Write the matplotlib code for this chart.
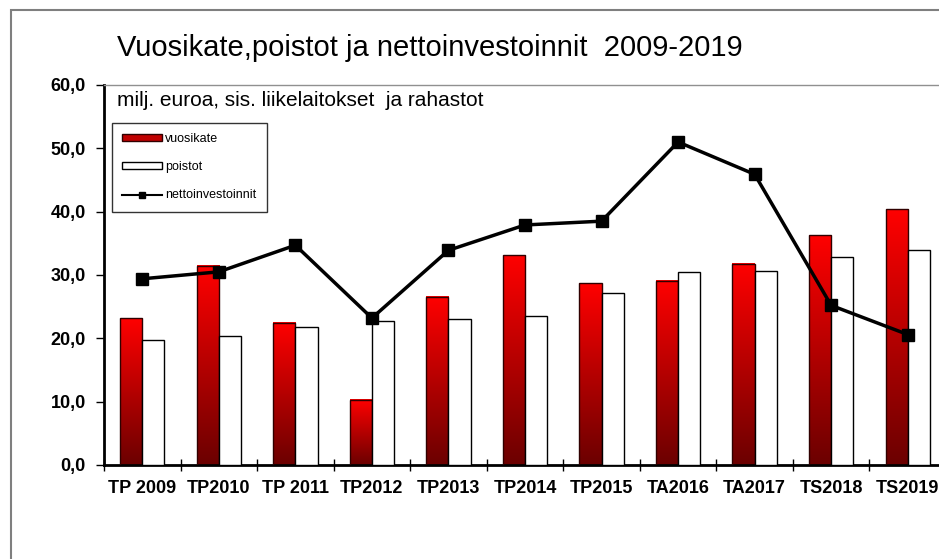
import numpy as np
import matplotlib.pyplot as plt
from matplotlib.patches import Rectangle, Patch
from matplotlib.lines import Line2D
from matplotlib.colors import LinearSegmentedColormap

plt.rcParams['font.family'] = ['Liberation Sans', 'DejaVu Sans']

categories = ["TP 2009", "TP2010", "TP 2011", "TP2012", "TP2013", "TP2014",
              "TP2015", "TA2016", "TA2017", "TS2018", "TS2019"]
vuosikate = [23.2, 31.5, 22.5, 10.3, 26.6, 33.1, 28.7, 29.1, 31.8, 36.3, 40.4]
poistot = [19.7, 20.4, 21.8, 22.7, 23.1, 23.6, 27.1, 30.5, 30.7, 32.9, 34.0]
nettoinvestoinnit = [29.4, 30.5, 34.7, 23.2, 33.9, 37.9, 38.5, 51.0, 45.9, 25.2, 20.6]

W, H = 939, 559
fig = plt.figure(figsize=(W / 100, H / 100), dpi=100)

# outer chart frame (right and bottom edges fall outside the picture)
fig.patches.append(Rectangle((11 / W, -0.2), 2.0, 1 - 10 / H + 0.2,
                             transform=fig.transFigure, fill=False,
                             edgecolor='#7f7f7f', linewidth=1.5))

ax = fig.add_axes([104 / W, (H - 465) / H, 842 / W, 380 / H])

x = np.arange(len(categories)) + 0.5
bw = 0.29
red_cmap = LinearSegmentedColormap.from_list('redgrad', ['#6b0000', '#ff0000'])
grad = np.linspace(0, 1, 256).reshape(-1, 1)

# red bars with vertical gradient
for xi, v in zip(x, vuosikate):
    ax.imshow(grad, extent=[xi - bw, xi, 0, v], origin='lower', aspect='auto',
              cmap=red_cmap, zorder=2)
ax.bar(x - bw / 2, vuosikate, width=bw, facecolor='none', edgecolor='#300000',
       linewidth=1.0, zorder=3)
ax.bar(x + bw / 2, poistot, width=bw, facecolor='white', edgecolor='black',
       linewidth=1.0, zorder=3)
ax.plot(x, nettoinvestoinnit, color='black', linewidth=2.5, marker='s',
        markersize=8, zorder=4)

ax.set_xlim(0, len(categories))
ax.set_ylim(0, 60)
ax.set_yticks(np.arange(0, 61, 10))
ax.set_yticklabels([f"{v:.1f}".replace('.', ',') for v in range(0, 61, 10)],
                   fontsize=13, fontweight='bold')
ax.set_xticks(x)
ax.set_xticklabels(categories, fontsize=13, fontweight='bold')
ax.set_xticks(np.arange(len(categories) + 1), minor=True)
ax.tick_params(axis='x', which='major', length=0, pad=11)
ax.tick_params(axis='x', which='minor', length=8, width=1, direction='inout')
ax.tick_params(axis='y', length=6, width=1, pad=7)

for side in ['left', 'bottom']:
    ax.spines[side].set_linewidth(2)
ax.spines['top'].set_color('#909090')
ax.spines['top'].set_linewidth(1)
ax.spines['right'].set_visible(False)

handles = [Patch(facecolor='#c00000', edgecolor='#300000'),
           Patch(facecolor='white', edgecolor='black'),
           Line2D([], [], color='black', linewidth=1.5, marker='s', markersize=4)]
leg = ax.legend(handles, ['vuosikate', 'poistot', 'nettoinvestoinnit'],
                loc='upper left', bbox_to_anchor=(7.5 / 842, 1 - 38 / 380),
                fontsize=9, frameon=True, fancybox=False, handlelength=3.2,
                handleheight=0.5, labelspacing=1.3, handletextpad=0.3,
                borderpad=0.8, borderaxespad=0)
leg.get_frame().set_edgecolor('black')
leg.get_frame().set_linewidth(1)

fig.text(117 / W, 1 - 48 / H, "Vuosikate,poistot ja nettoinvestoinnit  2009-2019",
         fontsize=21, va='center', ha='left')
fig.text(117 / W, 1 - 101 / H, "milj. euroa, sis. liikelaitokset  ja rahastot",
         fontsize=15, va='center', ha='left')

fig.savefig("out.png", dpi=100)
